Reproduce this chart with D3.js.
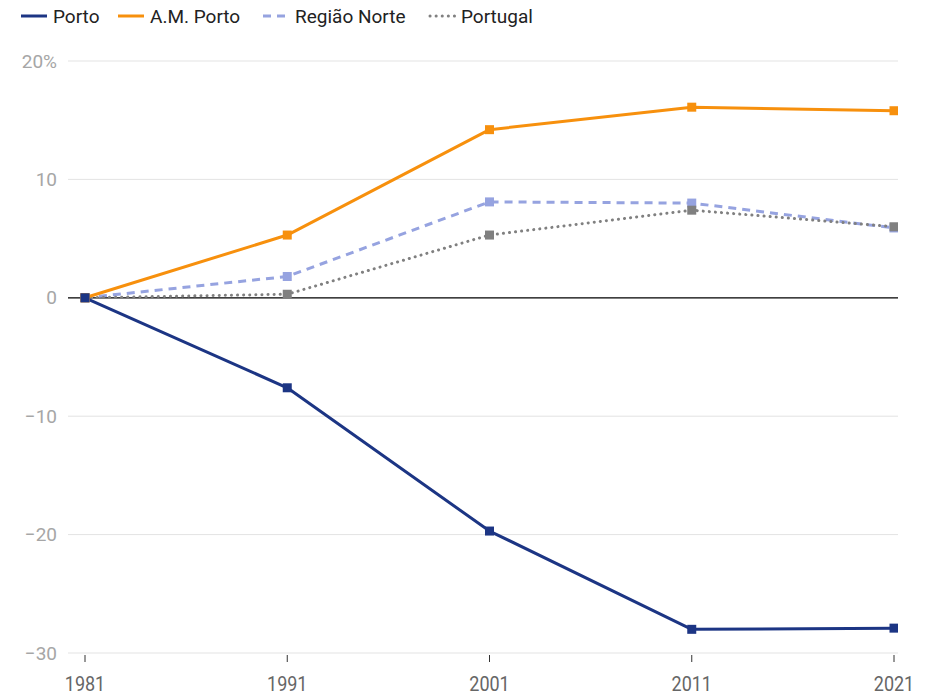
<!DOCTYPE html>
<html><head><meta charset="utf-8">
<script src="https://cdn.jsdelivr.net/npm/d3@7"></script>
<style>body{margin:0;background:#fff;font-family:Roboto,"Noto Sans",sans-serif;}</style>
</head><body><svg id="c" width="930" height="695"></svg>
<script>
const years = [1981, 1991, 2001, 2011, 2021];
const porto = [0, -7.6, -19.7, -28.0, -27.9];
const amPorto = [0, 5.3, 14.2, 16.1, 15.8];
const regiaoNorte = [0, 1.8, 8.1, 8.0, 5.9];
const portugal = [0, 0.3, 5.3, 7.4, 6.0];
const yTicks = [20, 10, 0, -10, -20, -30];
const seriesNames = ["Porto", "A.M. Porto", "Região Norte", "Portugal"];

const colors = {porto: "#1c3584", am: "#f7900d", norte: "#96a3e0", pt: "#808080"};
const series = [
  {name: seriesNames[2], values: regiaoNorte, color: colors.norte, dash: "8,6", cap: "butt"},
  {name: seriesNames[3], values: portugal, color: colors.pt, dash: "0.1,6", cap: "round"},
  {name: seriesNames[1], values: amPorto, color: colors.am, dash: null, cap: "butt"},
  {name: seriesNames[0], values: porto, color: colors.porto, dash: null, cap: "butt"}
];

const svg = d3.select("#c");
const left = 68, right = 898;
const x = d3.scaleLinear().domain([1981, 2021]).range([85, 894]);
const y = d3.scaleLinear().domain([-30, 20]).range([653, 61]);

// gridlines
svg.append("g").selectAll("line").data(yTicks.filter(d => d !== 0)).join("line")
  .attr("x1", left).attr("x2", right)
  .attr("y1", d => y(d)).attr("y2", d => y(d))
  .attr("stroke", "#e3e3e3").attr("stroke-width", 1);

// y labels
svg.append("g").selectAll("text").data(yTicks).join("text")
  .attr("x", 57).attr("y", d => y(d)).attr("dy", "0.35em")
  .attr("text-anchor", "end").attr("fill", "#a6a6a6").attr("font-size", 19)
  .text(d => d === 20 ? "20%" : (d < 0 ? "\u2212" + Math.abs(d) : d));

// x axis ticks
svg.append("g").selectAll("line").data(years).join("line")
  .attr("x1", d => x(d)).attr("x2", d => x(d))
  .attr("y1", 655).attr("y2", 662).attr("stroke", "#333").attr("stroke-width", 1);
svg.append("g").selectAll("text").data(years).join("text")
  .attr("transform", d => `translate(${x(d)},691) scale(1,1.16)`)
  .attr("text-anchor", "middle").attr("fill", "#666").attr("font-size", 18)
  .text(d => d);

// clip
svg.append("clipPath").attr("id", "clip").append("rect")
  .attr("x", 0).attr("y", 40).attr("width", right).attr("height", 640);

// zero line
svg.append("line").attr("x1", left).attr("x2", right)
  .attr("y1", y(0)).attr("y2", y(0)).attr("stroke", "#000").attr("stroke-width", 1.2);

const g = svg.append("g").attr("clip-path", "url(#clip)");
const line = d3.line().x((d, i) => x(years[i])).y(d => y(d));
series.forEach(s => {
  g.append("path").datum(s.values).attr("d", line)
    .attr("fill", "none").attr("stroke", s.color).attr("stroke-width", 3)
    .attr("stroke-dasharray", s.dash).attr("stroke-linecap", s.cap)
    .attr("stroke-linejoin", "round");
});
series.forEach(s => {
  g.append("g").selectAll("rect").data(s.values).join("rect")
    .attr("x", (d, i) => x(years[i]) - 4.5).attr("y", d => y(d) - 4.5)
    .attr("width", 9).attr("height", 9).attr("fill", s.color);
});

// legend
const leg = [
  {name: seriesNames[0], color: colors.porto, dash: null, cap: "butt", x: 21, len: 26, tx: 32},
  {name: seriesNames[1], color: colors.am, dash: null, cap: "butt", x: 118, len: 26, tx: 32},
  {name: seriesNames[2], color: colors.norte, dash: "8,6", cap: "butt", x: 263, len: 22, tx: 32},
  {name: seriesNames[3], color: colors.pt, dash: "0.1,6", cap: "round", x: 430, len: 26, tx: 31}
];
const lg = svg.append("g").selectAll("g").data(leg).join("g")
  .attr("transform", d => `translate(${d.x},16)`);
lg.append("line").attr("x1", 0).attr("x2", d => d.len)
  .attr("y1", 0).attr("y2", 0)
  .attr("stroke", d => d.color).attr("stroke-width", 3)
  .attr("stroke-dasharray", d => d.dash).attr("stroke-linecap", d => d.cap);
lg.append("text").attr("x", d => d.tx).attr("y", 0).attr("dy", "0.35em")
  .attr("font-size", 19).attr("fill", "#222").text(d => d.name);
</script></body></html>
